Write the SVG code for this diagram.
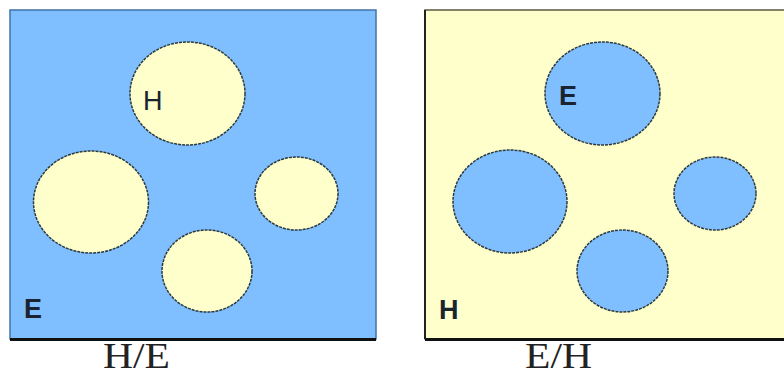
<svg xmlns="http://www.w3.org/2000/svg" width="784" height="376" viewBox="0 0 784 376">
<style>
.blue{fill:#80bfff}
.yel{fill:#ffffcc}
.c{stroke:#2b3a40;stroke-width:1.5;stroke-dasharray:3 1}
.lbl{font-family:"Liberation Sans",Arial,sans-serif;font-size:27px;fill:#1a2430}
.b{font-weight:bold}
.cap{font-family:"Liberation Serif","Times New Roman",serif;font-size:35px;fill:#222}
</style>
<rect width="784" height="376" fill="#ffffff"/>
<g id="panel-HE">
<rect x="10" y="10" width="366" height="329" class="blue" stroke="#3f73a8" stroke-width="1.5"/>
<line x1="10" y1="339.5" x2="376" y2="339.5" stroke="#111" stroke-width="3"/>
<ellipse cx="187.5" cy="93.5" rx="57.5" ry="51.5" class="yel c"/>
<ellipse cx="91" cy="202" rx="57.5" ry="51" class="yel c"/>
<ellipse cx="296.5" cy="193.5" rx="41.5" ry="36.5" class="yel c"/>
<ellipse cx="207" cy="271" rx="45" ry="41" class="yel c"/>
<text x="143" y="110" class="lbl">H</text>
<text x="24" y="318" class="lbl b">E</text>
<text x="103" y="368" class="cap" textLength="67" lengthAdjust="spacingAndGlyphs">H/E</text>
</g>
<g id="panel-EH">
<rect x="425" y="10" width="370" height="329" class="yel" stroke="#5a5a40" stroke-width="1.5"/>
<line x1="425" y1="10" x2="425" y2="339" stroke="#222" stroke-width="2"/>
<line x1="425" y1="339.5" x2="784" y2="339.5" stroke="#111" stroke-width="3"/>
<ellipse cx="602.5" cy="93.5" rx="57.5" ry="51.5" class="blue c"/>
<ellipse cx="510" cy="201.5" rx="57" ry="51.5" class="blue c"/>
<ellipse cx="715" cy="193.5" rx="41" ry="36.5" class="blue c"/>
<ellipse cx="622.5" cy="271" rx="45.5" ry="41" class="blue c"/>
<text x="559" y="105" class="lbl b">E</text>
<text x="439" y="319" class="lbl b">H</text>
<text x="525" y="368" class="cap" textLength="67" lengthAdjust="spacingAndGlyphs">E/H</text>
</g>
</svg>
